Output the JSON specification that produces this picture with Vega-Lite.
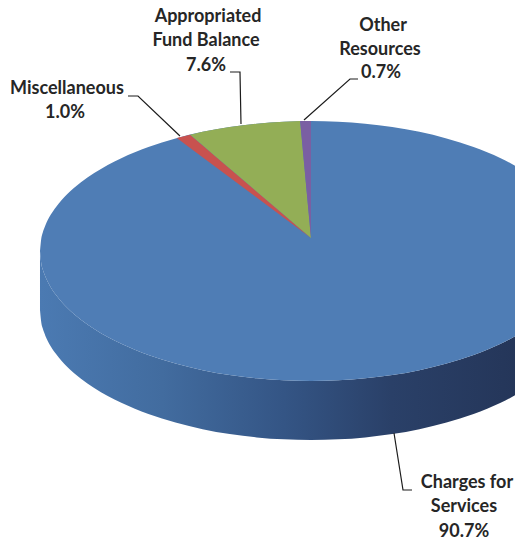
{
"$schema":"https://vega.github.io/schema/vega-lite/v6.json",
"width":515,"height":542,"padding":0,
"autosize":{"type":"fit","contains":"padding"},
"background":"#ffffff",
"view":{"stroke":null},
"datasets":{
"disc":[
{"u":-100,"top":0,"seam":0,"base":-45.4},
{"u":-99.5,"top":9.99,"seam":-9.99,"base":-55.39},
{"u":-99,"top":14.11,"seam":-14.11,"base":-59.51},
{"u":-98,"top":19.9,"seam":-19.9,"base":-65.3},
{"u":-96,"top":28,"seam":-28,"base":-73.4},
{"u":-94,"top":34.12,"seam":-34.12,"base":-79.52},
{"u":-92,"top":39.19,"seam":-39.19,"base":-84.59},
{"u":-90,"top":43.59,"seam":-43.59,"base":-88.99},
{"u":-85,"top":52.68,"seam":-52.68,"base":-98.08},
{"u":-80,"top":60,"seam":-60,"base":-105.4},
{"u":-70,"top":71.41,"seam":-71.41,"base":-116.81},
{"u":-60,"top":80,"seam":-80,"base":-125.4},
{"u":-50,"top":86.6,"seam":-86.6,"base":-132},
{"u":-40,"top":91.65,"seam":-91.65,"base":-137.05},
{"u":-30,"top":95.39,"seam":-95.39,"base":-140.79},
{"u":-20,"top":97.98,"seam":-97.98,"base":-143.38},
{"u":-10,"top":99.5,"seam":-99.5,"base":-144.9},
{"u":0,"top":100,"seam":-100,"base":-145.4},
{"u":10,"top":99.5,"seam":-99.5,"base":-144.9},
{"u":20,"top":97.98,"seam":-97.98,"base":-143.38},
{"u":30,"top":95.39,"seam":-95.39,"base":-140.79},
{"u":40,"top":91.65,"seam":-91.65,"base":-137.05},
{"u":50,"top":86.6,"seam":-86.6,"base":-132},
{"u":60,"top":80,"seam":-80,"base":-125.4},
{"u":70,"top":71.41,"seam":-71.41,"base":-116.81},
{"u":80,"top":60,"seam":-60,"base":-105.4}
],
"slices":[
{"slice":"Miscellaneous","value":1.0,"u":-49.5,"hi":86.9,"lo":86.9},
{"slice":"Miscellaneous","value":1.0,"u":-44.6,"hi":89.5,"lo":79.3},
{"slice":"Miscellaneous","value":1.0,"u":0,"hi":10,"lo":10},
{"slice":"Appropriated Fund Balance","value":7.6,"u":-44.6,"hi":89.5,"lo":89.5},
{"slice":"Appropriated Fund Balance","value":7.6,"u":-40,"hi":91.65,"lo":81.3},
{"slice":"Appropriated Fund Balance","value":7.6,"u":-35,"hi":93.67,"lo":72.39},
{"slice":"Appropriated Fund Balance","value":7.6,"u":-30,"hi":95.39,"lo":63.48},
{"slice":"Appropriated Fund Balance","value":7.6,"u":-25,"hi":96.82,"lo":54.56},
{"slice":"Appropriated Fund Balance","value":7.6,"u":-20,"hi":97.98,"lo":45.65},
{"slice":"Appropriated Fund Balance","value":7.6,"u":-15,"hi":98.87,"lo":36.74},
{"slice":"Appropriated Fund Balance","value":7.6,"u":-10,"hi":99.5,"lo":27.83},
{"slice":"Appropriated Fund Balance","value":7.6,"u":-4,"hi":99.92,"lo":17.13},
{"slice":"Appropriated Fund Balance","value":7.6,"u":0,"hi":10,"lo":10},
{"slice":"Other Resources","value":0.7,"u":-4,"hi":99.92,"lo":99.92},
{"slice":"Other Resources","value":0.7,"u":-2,"hi":99.98,"lo":54.95},
{"slice":"Other Resources","value":0.7,"u":0,"hi":100,"lo":10}
],
"leaders":[
{"slice":"Miscellaneous","seq":1,"u":-67.53,"v":119.23},
{"slice":"Miscellaneous","seq":2,"u":-63.84,"v":119.23},
{"slice":"Miscellaneous","seq":3,"u":-48.34,"v":88.46},
{"slice":"Appropriated Fund Balance","seq":1,"u":-29.89,"v":137.69},
{"slice":"Appropriated Fund Balance","seq":2,"u":-26.2,"v":137.69},
{"slice":"Appropriated Fund Balance","seq":3,"u":-25.83,"v":97.69},
{"slice":"Other Resources","seq":1,"u":17.34,"v":132.31},
{"slice":"Other Resources","seq":2,"u":14.39,"v":132.31},
{"slice":"Other Resources","seq":3,"u":-2.58,"v":100.77},
{"slice":"Charges for Services","seq":1,"u":30.63,"v":-140},
{"slice":"Charges for Services","seq":2,"u":33.95,"v":-183.85},
{"slice":"Charges for Services","seq":3,"u":37.27,"v":-183.85}
],
"labels":[
{"text":"Miscellaneous","u":-90.04,"v":124.62},
{"text":"1.0%","u":-90.77,"v":106.15},
{"text":"Appropriated","u":-38.01,"v":180},
{"text":"Fund Balance","u":-38.75,"v":161.54},
{"text":"7.6%","u":-38.75,"v":142.31},
{"text":"Other","u":26.57,"v":173.08},
{"text":"Resources","u":25.46,"v":154.62},
{"text":"0.7%","u":25.83,"v":136.92},
{"text":"Charges for","u":57.56,"v":-178.46},
{"text":"Services","u":56.46,"v":-196.92},
{"text":"90.7%","u":56.46,"v":-216.15}
]
},
"encoding":{
"x":{"field":"u","type":"quantitative","axis":null,"scale":{"domain":[-114.76,75.28],"nice":false,"zero":false}}
},
"layer":[
{"data":{"name":"disc"},
"mark":{"type":"area","clip":true,"interpolate":"monotone","color":{"gradient":"linear","x1":0,"x2":1,"y1":0,"y2":0,"stops":[{"offset":0,"color":"#4b7ab2"},{"offset":0.25,"color":"#426c9f"},{"offset":0.5,"color":"#345585"},{"offset":0.72,"color":"#2a4068"},{"offset":1,"color":"#243558"}]}},
"encoding":{"y":{"field":"seam","type":"quantitative","stack":null,"axis":null,"scale":{"domain":[-223.85,193.08],"nice":false,"zero":false}},"y2":{"field":"base"}}},
{"data":{"name":"disc"},
"mark":{"type":"area","clip":true,"interpolate":"monotone","color":"#4f7db5"},
"encoding":{"y":{"field":"top","type":"quantitative","stack":null,"axis":null,"scale":{"domain":[-223.85,193.08],"nice":false,"zero":false}},"y2":{"field":"seam"}}},
{"data":{"name":"slices"},
"mark":{"type":"area","clip":true},
"encoding":{"y":{"field":"hi","type":"quantitative","stack":null,"axis":null,"scale":{"domain":[-223.85,193.08],"nice":false,"zero":false}},"y2":{"field":"lo"},
"color":{"field":"slice","type":"nominal","legend":null,"scale":{"domain":["Miscellaneous","Appropriated Fund Balance","Other Resources"],"range":["#c8524f","#93ae56","#7a5fa3"]}}}},
{"data":{"name":"leaders"},
"mark":{"type":"line","clip":true,"color":"#1c1c1c","strokeWidth":1.2},
"encoding":{"y":{"field":"v","type":"quantitative","axis":null,"scale":{"domain":[-223.85,193.08],"nice":false,"zero":false}},"detail":{"field":"slice"},"order":{"field":"seq","type":"quantitative"}}},
{"data":{"name":"labels"},
"mark":{"type":"text","font":"Lato","fontWeight":"bold","fontSize":18,"color":"#262626","align":"center","baseline":"middle"},
"encoding":{"y":{"field":"v","type":"quantitative","axis":null,"scale":{"domain":[-223.85,193.08],"nice":false,"zero":false}},"text":{"field":"text"}}}
]
}
